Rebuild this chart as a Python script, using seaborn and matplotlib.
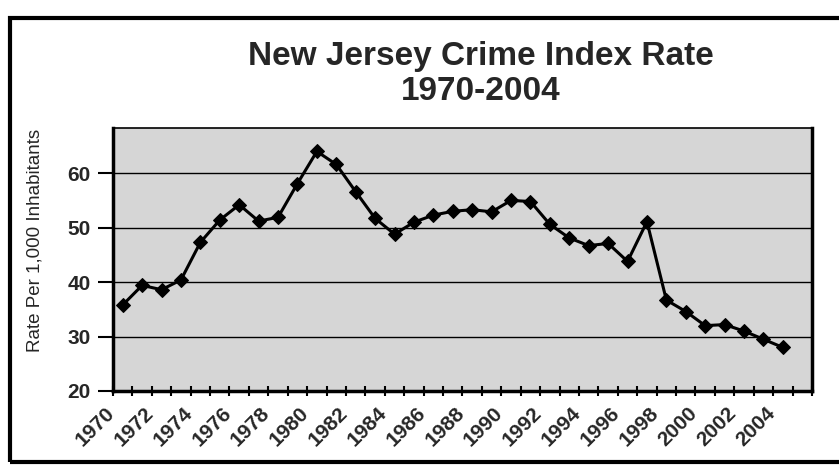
import matplotlib
matplotlib.use("Agg")
import matplotlib.pyplot as plt
import matplotlib.transforms as mtransforms
from matplotlib.patches import Rectangle
import seaborn as sns
import pandas as pd

# New Jersey crime index, offenses per 1,000 inhabitants
years = list(range(1970, 2005))
rates = [35.8, 39.4, 38.6, 40.4, 47.3, 51.4, 54.2, 51.2, 51.9, 58.1,
         64.0, 61.6, 56.6, 51.7, 48.8, 51.0, 52.3, 53.0, 53.3, 52.9,
         55.0, 54.8, 50.6, 48.1, 46.7, 47.1, 43.8, 51.1, 36.7, 34.6,
         32.0, 32.2, 31.0, 29.5, 28.0]
year_labels = [str(y) for y in range(1970, 2005, 2)]
y_ticks = [20, 30, 40, 50, 60]

title = "New Jersey Crime Index Rate\n1970-2004"
y_title = "Rate Per 1,000 Inhabitants"

df = pd.DataFrame({"year": years, "rate": rates})

sns.set_theme(style="white")
plt.rcParams["font.family"] = ["Liberation Sans", "DejaVu Sans"]

W, H = 839, 474
fig = plt.figure(figsize=(W / 100, H / 100), dpi=100)
fig.patch.set_facecolor("white")

# plot area in pixel terms
left, right, top, bottom = 113, 812, 128, 391
ax = fig.add_axes([left / W, 1 - bottom / H, (right - left) / W, (bottom - top) / H])
ax.set_facecolor("#d6d6d6")

for v in y_ticks[1:]:
    ax.axhline(v, color="black", lw=1.0, zorder=1)

sns.lineplot(data=df, x="year", y="rate", ax=ax, color="black", lw=2.2,
             marker="D", markersize=7.5, markeredgecolor="black",
             markerfacecolor="black", zorder=3)

ax.set_xlim(1969.5, 2005.5)
ax.set_ylim(20, 68.3)

# category labels every other year, tick marks between categories
ax.set_xticks(list(range(1970, 2005, 2)))
ax.set_xticklabels(year_labels, rotation=45, ha="right", va="center",
                   rotation_mode="anchor", fontsize=15, fontweight="bold")
ax.tick_params(axis="x", which="major", length=0, pad=14)
shift = mtransforms.ScaledTranslation(-11 / 100, 0, fig.dpi_scale_trans)
for lbl in ax.get_xticklabels():
    lbl.set_transform(lbl.get_transform() + shift)
ax.set_xticks([1969.5 + k for k in range(37)], minor=True)
ax.tick_params(axis="x", which="minor", direction="inout", length=7,
               width=1.5, color="black", bottom=True)

ax.set_yticks(y_ticks)
ax.set_yticklabels([str(v) for v in y_ticks], fontsize=15, fontweight="bold")
ax.tick_params(axis="y", direction="out", length=11, width=1.5, color="black",
               left=True, pad=5)

ax.set_xlabel("")
ax.set_ylabel(y_title, fontsize=13.5)
ax.yaxis.set_label_coords((44 - left) / (right - left), (bottom - 240) / (bottom - top))

for side, w in [("left", 2.5), ("bottom", 2.5), ("right", 2.5), ("top", 1.2)]:
    ax.spines[side].set_visible(True)
    ax.spines[side].set_color("black")
    ax.spines[side].set_linewidth(w)

fig.text(481 / W, 1 - 74 / H, title, ha="center", va="center",
         fontsize=24, fontweight="bold", linespacing=1.13)

# outer frame of the chart (open on the right)
fig.add_artist(Rectangle((10 / W, 1 - 462 / H), 1.0, (462 - 18) / H,
                         transform=fig.transFigure, fill=False,
                         edgecolor="black", lw=3.0, clip_on=False))

fig.savefig("out.png", dpi=100)
